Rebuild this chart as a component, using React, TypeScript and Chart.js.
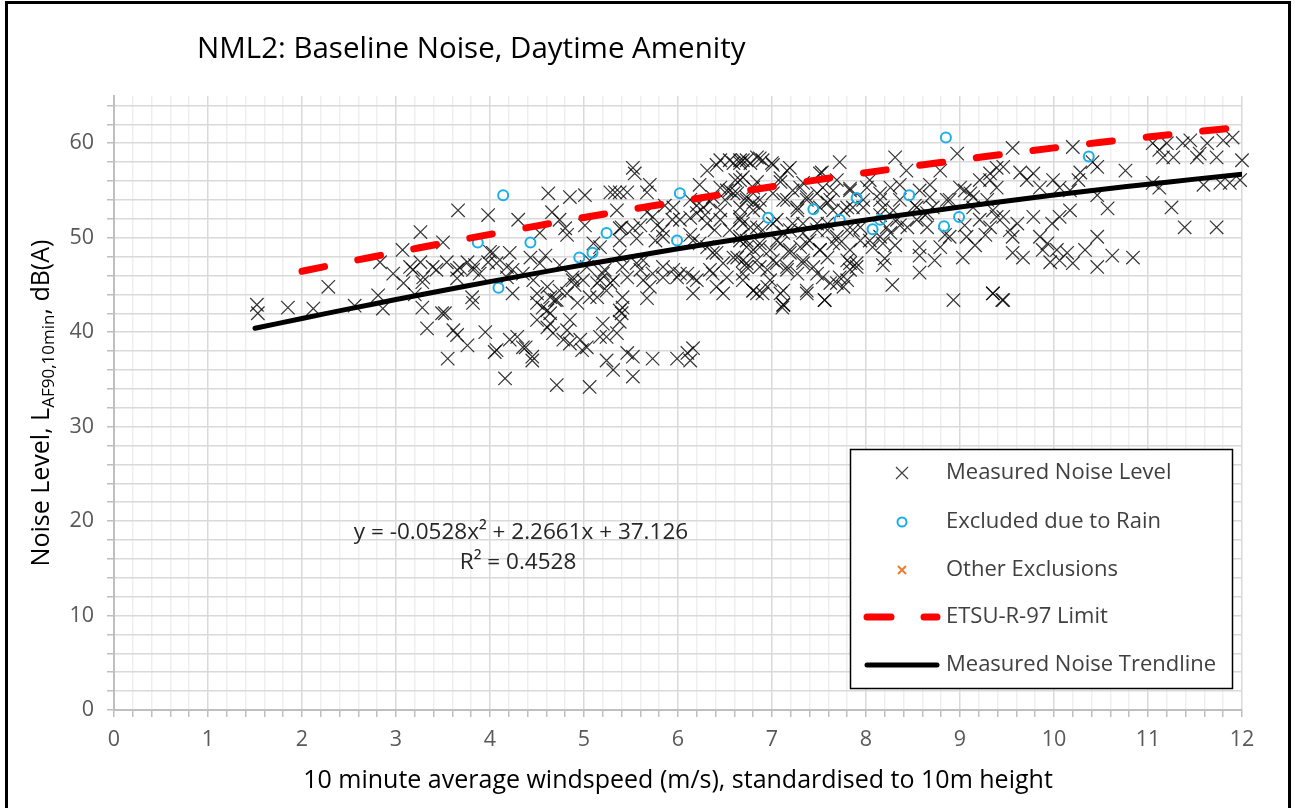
import React, { useEffect, useRef } from 'react';
import { Chart, registerables } from 'chart.js';

Chart.register(...registerables);

const FONT = '"Open Sans", Lato, sans-serif';

const TITLE = 'NML2: Baseline Noise, Daytime Amenity';
const X_TITLE = '10 minute average windspeed (m/s), standardised to 10m height';
const Y_TITLE_MAIN = 'Noise Level, L';
const Y_TITLE_SUB = 'AF90,10min';
const Y_TITLE_END = ', dB(A)';
const EQUATION = 'y = -0.0528x² + 2.2661x + 37.126';
const R_SQUARED = 'R² = 0.4528';

const LEGEND_LABELS = [
  'Measured Noise Level',
  'Excluded due to Rain',
  'Other Exclusions',
  'ETSU-R-97 Limit',
  'Measured Noise Trendline',
];

const X_MIN = 0;
const X_MAX = 12;
const Y_MIN = 0;
const Y_MAX = 65;
const X_TICKS = Array.from({ length: 61 }, (_, i) => Math.round(i * 2) / 10);
const Y_TICKS = Array.from({ length: 33 }, (_, i) => i * 2);

// Trendline, windspeed -> dB
const TREND_X = [1.5, 2, 2.5, 3, 3.5, 4, 4.5, 5, 5.5, 6, 6.5, 7, 7.5, 8, 8.5, 9, 9.5, 10, 10.5, 11, 11.5, 12];
const TREND_Y = [40.41, 41.45, 42.46, 43.45, 44.41, 45.35, 46.25, 47.14, 47.99, 48.82, 49.63, 50.4, 51.15, 51.88, 52.57, 53.24, 53.89, 54.51, 55.1, 55.66, 56.2, 56.72];

// ETSU-R-97 limit
const ETSU_X = [2, 2.5, 3, 3.5, 4, 4.5, 5, 5.5, 6, 6.5, 7, 7.5, 8, 8.5, 9, 9.5, 10, 10.5, 11, 11.5, 12];
const ETSU_Y = [46.45, 47.46, 48.45, 49.41, 50.35, 51.25, 52.14, 52.99, 53.82, 54.63, 55.4, 56.15, 56.88, 57.57, 58.24, 58.89, 59.51, 60.1, 60.66, 61.2, 61.72];

// Excluded due to rain
const RAIN_POINTS: [number, number][] = [
  [3.87, 49.5], [4.14, 54.5], [4.43, 49.5], [4.09, 44.7], [5.24, 50.5], [4.95, 47.9], [5.09, 48.4],
  [6.02, 54.7], [5.99, 49.7], [8.85, 60.6], [6.96, 52.1], [7.44, 53.0], [7.9, 54.2], [7.72, 51.9],
  [8.07, 50.9], [8.15, 51.9], [8.46, 54.5], [8.83, 51.2], [8.99, 52.2], [10.37, 58.6],
];

const OTHER_POINTS: [number, number][] = [];

// Measured noise level
const MEASURED_POINTS: [number, number][] = [
  [1.52, 42.9], [1.53, 42.0], [1.85, 42.6], [2.12, 42.5], [2.28, 44.8], [2.56, 42.8], [2.81, 43.9], [2.86, 42.5],
  [2.83, 47.4], [2.97, 46.2], [3.07, 48.7], [3.15, 46.9], [3.18, 46.6], [3.26, 50.6], [3.26, 47.4], [3.28, 45.3],
  [3.28, 42.6], [3.33, 40.4], [3.39, 46.9], [3.43, 46.6], [3.5, 49.5], [3.52, 42.0], [3.54, 47.4], [3.61, 40.2],
  [3.65, 39.7], [3.65, 45.7], [3.66, 52.9], [3.68, 46.8], [3.76, 38.6], [3.55, 37.2], [3.81, 43.7], [3.82, 43.1],
  [3.84, 47.1], [3.89, 46.2], [3.95, 40.0], [3.98, 52.4], [3.98, 47.4], [4.05, 37.9], [3.29, 45.8], [3.49, 42.0],
  [3.65, 46.6], [3.76, 47.4], [3.82, 46.6], [4.18, 45.8], [4.24, 46.6], [3.08, 45.2], [3.2, 44.0],
  [4.62, 54.7], [4.85, 54.3], [5.01, 54.5], [5.33, 54.8], [5.46, 54.8], [5.52, 57.4], [5.54, 56.8], [4.3, 51.9],
  [4.66, 52.7], [4.74, 51.9], [4.8, 51.0], [4.53, 50.5], [4.82, 50.3], [5.01, 51.3], [5.1, 49.4], [5.17, 49.0],
  [5.35, 52.9], [5.4, 51.1], [5.52, 51.0], [5.56, 49.9], [5.67, 52.7], [5.78, 51.3], [5.94, 51.9], [5.84, 50.1],
  [6.13, 52.1], [6.27, 53.2], [6.31, 57.1], [6.41, 57.7], [6.55, 58.2], [6.66, 57.9], [6.45, 55.3], [6.55, 55.0],
  [6.63, 54.7], [6.34, 53.8], [6.2, 53.4], [6.45, 51.9], [6.55, 50.8], [6.69, 51.5], [6.16, 49.7], [6.31, 49.0],
  [6.41, 48.4], [6.48, 47.3], [6.63, 47.9], [6.69, 46.2], [6.52, 45.8], [6.37, 46.2], [6.2, 45.5], [6.16, 44.1],
  [6.48, 44.1], [6.1, 46.2], [5.95, 46.6], [5.84, 45.8], [5.73, 46.2], [5.63, 45.5], [5.7, 44.8], [5.56, 47.3],
  [5.41, 46.9], [5.31, 45.5], [5.2, 46.2], [5.14, 45.2], [5.06, 43.7], [4.99, 45.5], [4.88, 45.5], [4.82, 44.1],
  [4.74, 44.4], [4.71, 43.4], [4.64, 43.7], [4.56, 42.6], [4.5, 43.1], [4.46, 45.5], [4.35, 46.2], [4.24, 44.1],
  [4.18, 46.9], [4.07, 47.3], [4.03, 48.4], [4.5, 41.3], [4.61, 40.5], [4.67, 39.9], [4.78, 39.2], [4.85, 38.8],
  [4.98, 38.1], [5.17, 39.5], [5.35, 39.9], [5.4, 42.0], [5.41, 42.6], [5.38, 41.1], [4.64, 42.0], [4.29, 39.5],
  [4.35, 38.4], [4.45, 37.4], [4.07, 38.1], [4.21, 39.2], [4.16, 35.1], [4.71, 34.4], [5.06, 34.2], [5.52, 35.3],
  [5.24, 37.0], [5.31, 36.0], [5.46, 37.8], [5.52, 37.4], [5.73, 37.2], [5.99, 37.2], [6.1, 37.8], [6.16, 38.3],
  [6.13, 37.0], [4.96, 39.2], [5.63, 47.6], [5.84, 46.9], [5.99, 45.8], [5.67, 43.6], [5.41, 43.7], [4.85, 41.3],
  [4.43, 47.9], [4.53, 47.3], [4.21, 48.4], [4.0, 48.5],
  [5.28, 54.8], [5.38, 54.8], [5.67, 54.8], [6.45, 58.2], [6.59, 57.9], [6.73, 58.2], [6.84, 58.5], [6.52, 55.0],
  [6.59, 54.7], [6.37, 54.3], [5.95, 53.2], [5.73, 52.2], [5.38, 51.0], [5.84, 50.8], [6.02, 51.9], [6.2, 52.6],
  [6.31, 51.5], [6.45, 52.9], [6.66, 53.2], [6.8, 53.7], [6.23, 49.4], [6.37, 48.4], [6.59, 47.9], [6.73, 47.3],
  [6.8, 48.7], [6.34, 46.6], [6.16, 45.8], [6.02, 46.2], [5.6, 46.6], [5.46, 45.8], [5.28, 45.2], [5.17, 45.5],
  [5.03, 46.9], [4.88, 45.8], [4.61, 44.8], [4.5, 44.1], [4.38, 38.4], [4.45, 37.0], [5.03, 38.4], [5.24, 39.5],
  [5.38, 42.3], [5.2, 40.9], [4.82, 40.2], [4.64, 40.9], [4.61, 42.3], [4.93, 43.1], [5.14, 43.7], [5.24, 44.4],
  [6.41, 44.8],
  [6.66, 58.2], [6.77, 57.9], [6.9, 58.2], [7.01, 57.7], [7.16, 57.1], [7.72, 58.0], [7.51, 56.8], [8.31, 58.5],
  [8.43, 57.1], [8.97, 58.9], [8.79, 57.1], [6.69, 56.4], [6.84, 55.9], [7.09, 56.3], [7.22, 55.0], [7.33, 55.8],
  [7.54, 55.3], [7.69, 56.1], [7.83, 55.0], [8.01, 55.3], [8.15, 54.7], [8.26, 55.3], [8.36, 54.0], [8.57, 55.0],
  [8.68, 54.3], [8.86, 54.0], [9.0, 55.3], [9.11, 54.7], [9.21, 56.1], [9.32, 56.8], [9.39, 55.3], [9.29, 54.0],
  [9.14, 53.2], [9.35, 52.9], [6.73, 54.3], [6.87, 54.0], [7.01, 54.7], [7.16, 54.0], [7.27, 53.2], [7.37, 54.3],
  [7.59, 53.7], [7.65, 52.9], [7.8, 53.2], [7.97, 53.2], [8.18, 53.2], [8.29, 52.9], [8.54, 53.2], [8.65, 52.6],
  [8.71, 53.2], [8.54, 51.9], [8.33, 51.9], [8.22, 51.1], [8.44, 51.1], [8.65, 51.1], [6.66, 52.2], [6.8, 52.9],
  [6.77, 51.1], [6.9, 50.8], [7.05, 51.9], [7.12, 50.5], [7.22, 51.5], [7.33, 50.5], [7.48, 51.5], [7.59, 50.8],
  [7.69, 50.1], [7.86, 50.8], [7.94, 49.7], [8.15, 50.1], [8.26, 50.5], [8.18, 49.4], [8.07, 49.0], [6.66, 50.1],
  [6.73, 49.0], [6.87, 49.4], [6.98, 48.7], [7.09, 49.4], [7.19, 48.4], [7.3, 49.0], [7.4, 49.7], [7.51, 48.7],
  [7.59, 47.9], [7.72, 49.4], [7.8, 47.6], [7.9, 47.3], [7.83, 46.6], [7.72, 45.8], [7.62, 45.2], [7.76, 44.8],
  [7.54, 45.8], [7.44, 46.9], [7.33, 47.6], [7.27, 46.2], [7.16, 46.9], [7.05, 47.3], [6.95, 46.6], [6.84, 47.6],
  [6.73, 46.9], [6.69, 45.5], [6.84, 44.1], [6.95, 44.8], [7.12, 44.4], [7.11, 42.6], [7.37, 44.1], [7.56, 43.4],
  [8.18, 47.1], [8.28, 45.0], [8.57, 46.3], [8.57, 49.0], [8.79, 49.0], [9.03, 47.9], [8.93, 43.4], [9.35, 44.1],
  [8.89, 50.1], [9.07, 50.1], [9.21, 51.9], [9.32, 51.1], [9.14, 54.3],
  [6.8, 44.4], [7.12, 42.9], [9.45, 43.4],
  [9.56, 59.5], [10.2, 59.6], [9.39, 57.4], [9.46, 57.5], [9.32, 56.1], [9.64, 56.9], [9.71, 56.1], [9.78, 56.8],
  [9.85, 55.3], [9.99, 56.1], [10.06, 55.3], [10.28, 56.9], [10.26, 56.1], [10.46, 57.5], [10.76, 57.1], [10.41, 58.0],
  [10.17, 55.0], [10.46, 54.5], [10.57, 53.1], [10.17, 52.9], [10.06, 52.2], [9.98, 51.5], [9.78, 52.2], [9.61, 51.5],
  [9.53, 50.8], [9.39, 52.2], [9.46, 52.2], [9.56, 50.1], [9.85, 50.1], [9.93, 49.4], [9.88, 48.7], [10.03, 48.7],
  [10.14, 48.4], [10.06, 47.6], [10.2, 47.3], [9.96, 47.4], [9.56, 48.4], [9.67, 47.9], [10.33, 48.7], [10.46, 50.1],
  [10.46, 46.9], [10.62, 48.1], [10.84, 47.9], [9.35, 44.1], [9.46, 43.4],
  [11.05, 60.0], [11.12, 59.3], [11.2, 60.0], [11.27, 58.5], [11.37, 60.0], [11.45, 60.3], [11.55, 58.9], [11.63, 60.0],
  [11.73, 58.5], [11.8, 60.3], [11.9, 60.6], [12.0, 58.2], [11.98, 56.1], [11.87, 55.8], [11.77, 55.8], [11.59, 55.6],
  [11.05, 55.8], [11.12, 55.3], [11.25, 53.2], [11.39, 51.1], [11.73, 51.1], [11.16, 58.5], [11.52, 58.5],
  [6.69, 58.2], [6.87, 58.4], [7.0, 57.9], [7.19, 57.4], [7.53, 56.9], [6.66, 56.1], [6.8, 55.3], [7.09, 55.9],
  [7.3, 55.3], [7.48, 54.7], [7.65, 55.0], [7.83, 55.2], [6.73, 54.0], [6.87, 53.2], [7.12, 54.0], [7.27, 52.9],
  [7.37, 54.0], [7.51, 53.2], [7.62, 54.0], [7.76, 52.9], [7.86, 53.2], [7.97, 54.0], [6.66, 51.9], [6.84, 51.1],
  [7.01, 51.5], [7.19, 50.8], [7.33, 51.5], [7.48, 50.8], [7.59, 51.5], [7.8, 50.8], [7.94, 51.1], [6.73, 49.7],
  [6.87, 49.0], [7.05, 49.7], [7.19, 48.7], [7.37, 49.4], [7.51, 48.7], [7.65, 49.4], [7.83, 48.7], [6.69, 47.6],
  [6.87, 46.9], [7.01, 47.6], [7.16, 46.6], [7.33, 47.3], [7.48, 46.2], [7.83, 47.3], [7.9, 46.9], [6.98, 45.5],
  [6.8, 44.4], [6.9, 44.1], [7.09, 44.1], [7.37, 44.4], [7.69, 45.2], [7.8, 45.5], [7.12, 42.9], [7.56, 43.4],
  [8.04, 56.1], [8.15, 54.0], [8.36, 55.6], [8.52, 53.4], [8.68, 55.6], [8.89, 54.0], [9.05, 55.0], [8.15, 52.4],
  [8.36, 51.3], [8.63, 52.4], [8.84, 50.3], [9.05, 51.3], [9.27, 50.3], [8.04, 49.7], [8.31, 49.2], [8.57, 48.1],
  [8.73, 47.6], [9.16, 49.2], [8.2, 47.8],
  [5.7, 55.6], [5.86, 53.4], [6.13, 54.0], [6.29, 52.4], [6.5, 54.0], [6.61, 56.1], [6.23, 55.6], [6.39, 50.8],
  [6.13, 50.3], [6.66, 49.7], [5.76, 49.7], [5.6, 51.3], [5.38, 49.7],
  [4.59, 48.1], [4.74, 47.1], [5.06, 47.6], [5.22, 46.6], [5.38, 48.1], [4.9, 45.0], [4.69, 43.4],
];

const isMajor = (v: number) => Math.abs(v - Math.round(v)) < 1e-6;

const toXY = (pts: [number, number][]) => pts.map(([x, y]) => ({ x, y }));
const zipXY = (xs: number[], ys: number[]) => xs.map((x, i) => ({ x, y: ys[i] }));

const overlayPlugin = {
  id: 'overlay',
  beforeDraw(chart: any) {
    const ctx = chart.ctx;
    ctx.save();
    ctx.fillStyle = '#ffffff';
    ctx.fillRect(0, 0, chart.width, chart.height);
    ctx.restore();
  },
  afterDraw(chart: any) {
    const ctx: CanvasRenderingContext2D = chart.ctx;
    const a = chart.chartArea;
    ctx.save();

    // outer frame
    ctx.strokeStyle = '#000';
    ctx.lineWidth = 3;
    ctx.strokeRect(6.5, 2.5, 1283, 840);

    // title
    ctx.fillStyle = '#000';
    ctx.textBaseline = 'middle';
    ctx.textAlign = 'left';
    ctx.font = `29.5px ${FONT}`;
    ctx.fillText(TITLE, 197, 50);

    // x title
    ctx.font = `25px ${FONT}`;
    ctx.textAlign = 'center';
    ctx.fillText(X_TITLE, (a.left + a.right) / 2, 781);

    // y title with subscript
    const mainFont = `25px ${FONT}`;
    const subFont = `17px ${FONT}`;
    ctx.font = mainFont;
    const w1 = ctx.measureText(Y_TITLE_MAIN).width;
    const w3 = ctx.measureText(Y_TITLE_END).width;
    ctx.font = subFont;
    const w2 = ctx.measureText(Y_TITLE_SUB).width;
    const total = w1 + w2 + w3;
    ctx.translate(49, (a.top + a.bottom) / 2);
    ctx.rotate(-Math.PI / 2);
    ctx.textAlign = 'left';
    ctx.textBaseline = 'alphabetic';
    let sx = -total / 2;
    ctx.font = mainFont;
    ctx.fillText(Y_TITLE_MAIN, sx, 0);
    sx += w1;
    ctx.font = subFont;
    ctx.fillText(Y_TITLE_SUB, sx, 5);
    sx += w2;
    ctx.font = mainFont;
    ctx.fillText(Y_TITLE_END, sx, 0);
    ctx.setTransform(1, 0, 0, 1, 0, 0);

    // equation
    ctx.fillStyle = '#262626';
    ctx.textAlign = 'center';
    ctx.textBaseline = 'middle';
    ctx.font = `22.5px ${FONT}`;
    ctx.fillText(EQUATION, 521, 533);
    ctx.fillText(R_SQUARED, 518, 563);

    // legend
    const lx = 850, ly = 449, lw = 382, lh = 239;
    ctx.fillStyle = '#fff';
    ctx.fillRect(lx, ly, lw, lh);
    ctx.strokeStyle = '#000';
    ctx.lineWidth = 1.5;
    ctx.strokeRect(lx + 0.5, ly + 0.5, lw, lh);
    const rows = [473, 522, 570, 617, 665];
    const mx = 902;
    // cross
    ctx.strokeStyle = 'rgba(0,0,0,0.75)';
    ctx.lineWidth = 1.2;
    ctx.beginPath();
    ctx.moveTo(mx - 6, rows[0] - 6); ctx.lineTo(mx + 6, rows[0] + 6);
    ctx.moveTo(mx + 6, rows[0] - 6); ctx.lineTo(mx - 6, rows[0] + 6);
    ctx.stroke();
    // circle
    ctx.strokeStyle = '#1AAFE8';
    ctx.lineWidth = 2;
    ctx.beginPath();
    ctx.arc(mx, rows[1], 4.5, 0, Math.PI * 2);
    ctx.stroke();
    // orange x
    ctx.strokeStyle = '#ED7D31';
    ctx.lineWidth = 2;
    ctx.beginPath();
    ctx.moveTo(mx - 4, rows[2] - 4); ctx.lineTo(mx + 4, rows[2] + 4);
    ctx.moveTo(mx + 4, rows[2] - 4); ctx.lineTo(mx - 4, rows[2] + 4);
    ctx.stroke();
    // red dashes
    ctx.strokeStyle = '#FF0000';
    ctx.lineWidth = 7;
    ctx.lineCap = 'round';
    ctx.beginPath();
    ctx.moveTo(867, rows[3]); ctx.lineTo(891, rows[3]);
    ctx.moveTo(924, rows[3]); ctx.lineTo(937, rows[3]);
    ctx.stroke();
    // black line
    ctx.strokeStyle = '#000';
    ctx.lineWidth = 5;
    ctx.beginPath();
    ctx.moveTo(867, rows[4]); ctx.lineTo(937, rows[4]);
    ctx.stroke();
    ctx.lineCap = 'butt';
    // labels
    ctx.fillStyle = '#404040';
    ctx.textAlign = 'left';
    ctx.textBaseline = 'middle';
    ctx.font = `22px ${FONT}`;
    LEGEND_LABELS.forEach((t, i) => ctx.fillText(t, 946, rows[i]));

    ctx.restore();
  },
};

export default function App() {
  const ref = useRef<HTMLCanvasElement | null>(null);

  useEffect(() => {
    if (!ref.current) return;
    const gridColor = (c: any) => (isMajor(c.tick?.value ?? 0) ? '#d9d9d9' : '#efefef');
    const chart = new Chart(ref.current, {
      type: 'scatter',
      data: {
        datasets: [
          {
            label: LEGEND_LABELS[4],
            data: zipXY(TREND_X, TREND_Y),
            showLine: true,
            borderColor: '#000',
            borderWidth: 5,
            pointRadius: 0,
            tension: 0.3,
            borderCapStyle: 'round',
            order: 0,
          },
          {
            label: LEGEND_LABELS[3],
            data: zipXY(ETSU_X, ETSU_Y),
            showLine: true,
            borderColor: '#FF0000',
            borderWidth: 7,
            borderDash: [23, 34],
            borderCapStyle: 'round',
            pointRadius: 0,
            tension: 0.3,
            order: 1,
          },
          {
            label: LEGEND_LABELS[1],
            data: toXY(RAIN_POINTS),
            pointStyle: 'circle',
            pointRadius: 5,
            borderWidth: 2,
            borderColor: '#1AAFE8',
            backgroundColor: 'rgba(0,0,0,0)',
            order: 2,
          },
          {
            label: LEGEND_LABELS[2],
            data: toXY(OTHER_POINTS),
            pointStyle: 'crossRot',
            pointRadius: 5,
            borderWidth: 2,
            borderColor: '#ED7D31',
            order: 3,
          },
          {
            label: LEGEND_LABELS[0],
            data: toXY(MEASURED_POINTS),
            pointStyle: 'crossRot',
            pointRadius: 9.5,
            borderWidth: 1.2,
            borderColor: 'rgba(0,0,0,0.8)',
            backgroundColor: 'rgba(0,0,0,0)',
            clip: false,
            order: 4,
          },
        ],
      },
      options: {
        animation: false,
        responsive: false,
        maintainAspectRatio: false,
        events: [],
        layout: { padding: { left: 0, top: 96, right: 53, bottom: 0 } },
        plugins: {
          legend: { display: false },
          title: { display: false },
          tooltip: { enabled: false },
        },
        scales: {
          x: {
            type: 'linear',
            min: X_MIN,
            max: X_MAX,
            afterBuildTicks: (s: any) => {
              s.ticks = X_TICKS.map((v) => ({ value: v }));
            },
            afterFit: (s: any) => {
              s.height = 98;
            },
            ticks: {
              autoSkip: false,
              maxRotation: 0,
              minRotation: 0,
              padding: 10,
              color: '#595959',
              font: { family: FONT, size: 21.5 },
              callback: (v: any) => (isMajor(Number(v)) ? String(Math.round(Number(v))) : ''),
            },
            grid: {
              color: gridColor,
              lineWidth: 1.5,
              drawTicks: true,
              tickLength: 7,
              tickColor: '#bfbfbf',
              tickWidth: 1.5,
            },
            border: { color: '#bfbfbf', width: 2 },
          },
          y: {
            type: 'linear',
            min: Y_MIN,
            max: Y_MAX,
            afterBuildTicks: (s: any) => {
              s.ticks = Y_TICKS.map((v) => ({ value: v }));
            },
            afterFit: (s: any) => {
              s.width = 114;
            },
            ticks: {
              autoSkip: false,
              padding: 13,
              color: '#595959',
              font: { family: FONT, size: 21.5 },
              callback: (v: any) => (Number(v) % 10 === 0 ? String(v) : ''),
            },
            grid: {
              color: gridColor,
              lineWidth: 1.5,
              drawTicks: true,
              tickLength: 7,
              tickColor: '#bfbfbf',
              tickWidth: 1.5,
            },
            border: { color: '#bfbfbf', width: 2 },
          },
        },
      },
      plugins: [overlayPlugin],
    } as any);
    return () => chart.destroy();
  }, []);

  return (
    <div style={{ position: 'fixed', left: 0, top: 0, width: 1295, height: 808, background: '#fff' }}>
      <canvas ref={ref} width={1295} height={808} style={{ display: 'block', width: 1295, height: 808 }} />
    </div>
  );
}
